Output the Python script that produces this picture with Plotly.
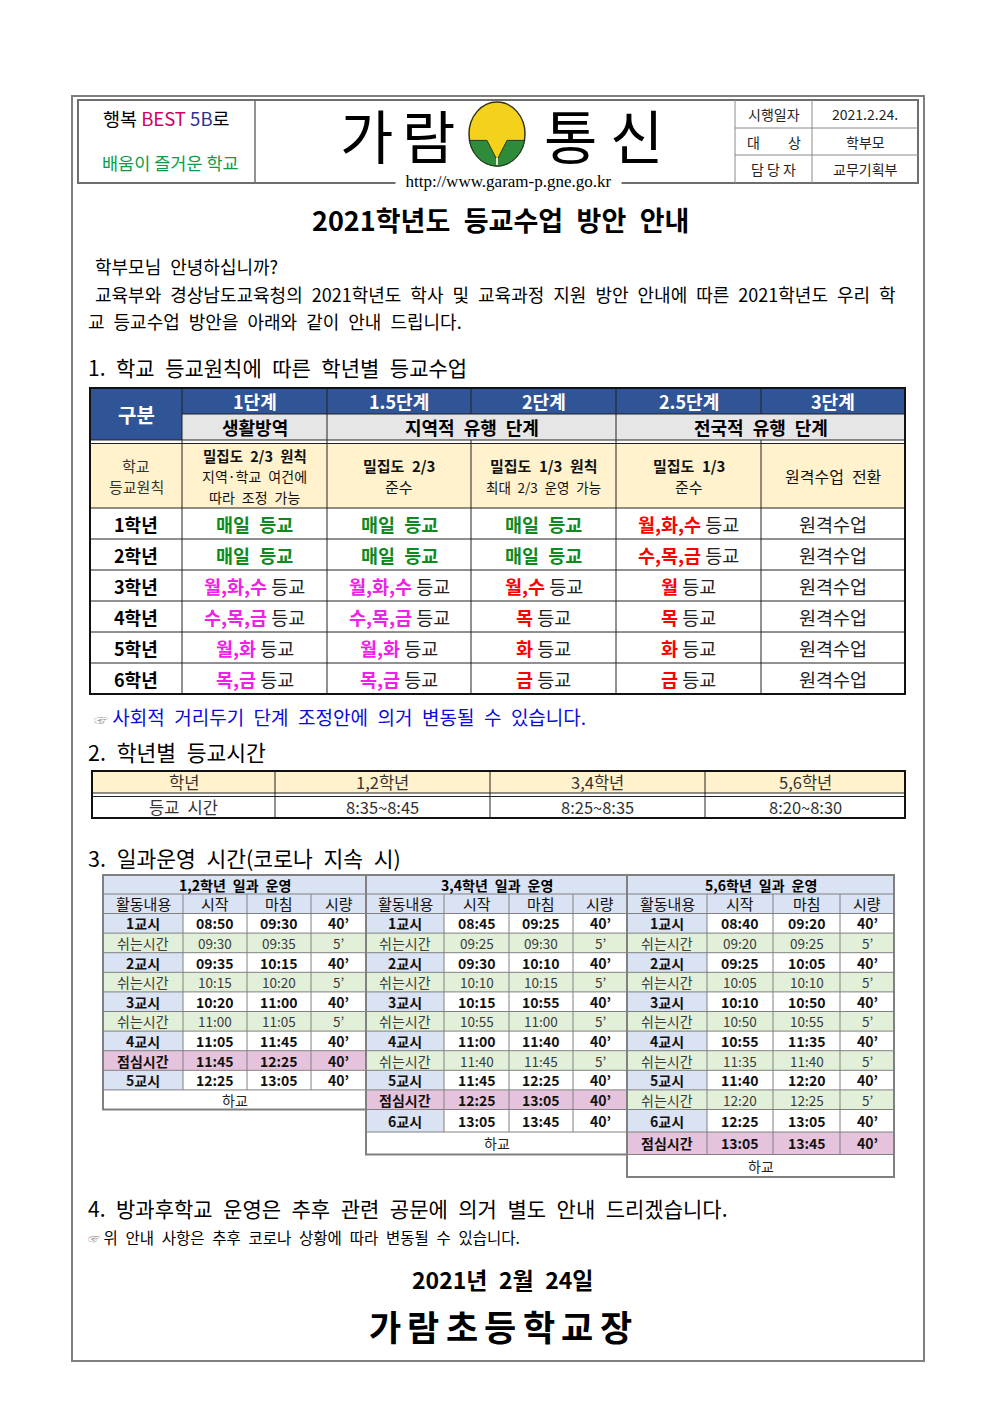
import numpy as np
import plotly.graph_objects as go

FONT = "Noto Sans CJK KR, Noto Sans, sans-serif"
SERIF = "Liberation Serif, DejaVu Serif, serif"

# ------------------------------------------------------------------ data
motto_parts = ["행복", "BEST", "5B", "로"]
slogan = "배움이 즐거운 학교"
title_chars = ["가", "람", "통", "신"]
url = "http://www.garam-p.gne.go.kr"
info_labels = ["시행일자", "대　　상", "담 당 자"]
info_values = ["2021.2.24.", "학부모", "교무기획부"]
doc_title = "2021학년도 등교수업 방안 안내"
greeting = "학부모님 안녕하십니까?"
intro_lines = ["교육부와 경상남도교육청의 2021학년도 학사 및 교육과정 지원 방안 안내에 따른 2021학년도 우리 학",
               "교 등교수업 방안을 아래와 같이 안내 드립니다."]

sec1 = "1. 학교 등교원칙에 따른 학년별 등교수업"
stages = ["1단계", "1.5단계", "2단계", "2.5단계", "3단계"]
stage_groups = ["생활방역", "지역적 유행 단계", "전국적 유행 단계"]
stage_group_span = [1, 2, 2]
principle_label = ["학교", "등교원칙"]
# each cell: list of (text, bold, size)
principles = [
    [("밀집도 2/3 원칙", True, 14.5), ("지역·학교 여건에", False, 14), ("따라 조정 가능", False, 14)],
    [("밀집도 2/3", True, 15), ("준수", False, 15)],
    [("밀집도 1/3 원칙", True, 15), ("최대 2/3 운영 가능", False, 13.5)],
    [("밀집도 1/3", True, 15), ("준수", False, 15)],
    [("원격수업 전환", False, 16)],
]
grades = ["1학년", "2학년", "3학년", "4학년", "5학년", "6학년"]
attendance = [
    ["매일 등교", "매일 등교", "매일 등교", "월,화,수 등교", "원격수업"],
    ["매일 등교", "매일 등교", "매일 등교", "수,목,금 등교", "원격수업"],
    ["월,화,수 등교", "월,화,수 등교", "월,수 등교", "월 등교", "원격수업"],
    ["수,목,금 등교", "수,목,금 등교", "목 등교", "목 등교", "원격수업"],
    ["월,화 등교", "월,화 등교", "화 등교", "화 등교", "원격수업"],
    ["목,금 등교", "목,금 등교", "금 등교", "금 등교", "원격수업"],
]
note1 = "사회적 거리두기 단계 조정안에 의거 변동될 수 있습니다."

sec2 = "2. 학년별 등교시간"
arrival_header = ["학년", "1,2학년", "3,4학년", "5,6학년"]
arrival_times = ["등교 시간", "8:35~8:45", "8:25~8:35", "8:20~8:30"]

sec3 = "3. 일과운영 시간(코로나 지속 시)"
sched_cols = ["활동내용", "시작", "마침", "시량"]
sched_titles = ["1,2학년 일과 운영", "3,4학년 일과 운영", "5,6학년 일과 운영"]
acts_12 = ["1교시", "쉬는시간", "2교시", "쉬는시간", "3교시", "쉬는시간", "4교시", "점심시간", "5교시", "하교"]
start_12 = ["08:50", "09:30", "09:35", "10:15", "10:20", "11:00", "11:05", "11:45", "12:25", ""]
end_12 = ["09:30", "09:35", "10:15", "10:20", "11:00", "11:05", "11:45", "12:25", "13:05", ""]
mins_12 = [40, 5, 40, 5, 40, 5, 40, 40, 40, None]
acts_34 = ["1교시", "쉬는시간", "2교시", "쉬는시간", "3교시", "쉬는시간", "4교시", "쉬는시간", "5교시", "점심시간", "6교시", "하교"]
start_34 = ["08:45", "09:25", "09:30", "10:10", "10:15", "10:55", "11:00", "11:40", "11:45", "12:25", "13:05", ""]
end_34 = ["09:25", "09:30", "10:10", "10:15", "10:55", "11:00", "11:40", "11:45", "12:25", "13:05", "13:45", ""]
mins_34 = [40, 5, 40, 5, 40, 5, 40, 5, 40, 40, 40, None]
acts_56 = ["1교시", "쉬는시간", "2교시", "쉬는시간", "3교시", "쉬는시간", "4교시", "쉬는시간", "5교시", "쉬는시간", "6교시", "점심시간", "하교"]
start_56 = ["08:40", "09:20", "09:25", "10:05", "10:10", "10:50", "10:55", "11:35", "11:40", "12:20", "12:25", "13:05", ""]
end_56 = ["09:20", "09:25", "10:05", "10:10", "10:50", "10:55", "11:35", "11:40", "12:20", "12:25", "13:05", "13:45", ""]
mins_56 = [40, 5, 40, 5, 40, 5, 40, 5, 40, 5, 40, 40, None]

sec4 = "4. 방과후학교 운영은 추후 관련 공문에 의거 별도 안내 드리겠습니다."
note2 = "위 안내 사항은 추후 코로나 상황에 따라 변동될 수 있습니다."
date_text = "2021년 2월 24일"
principal = ["가", "람", "초", "등", "학", "교", "장"]

# ------------------------------------------------------------------ styles
DBLUE = "#2F5597"
GREY = "#E7E6E6"
YELLOW = "#FFF2CC"
LBLUE = "#DAE3F3"
LGREEN = "#E2F0D9"
PINK = "#E6C3DC"
GREEN = "#0F8A1E"
MAGENTA = "#F020E8"
RED = "#FF0000"
TGRAY = "#808080"
EN = "\u2002"


def sp(s):
    """widen word spacing (document fonts use wide spaces)"""
    return s.replace(" ", EN)


shapes, annots = [], []


def box(x0, y0, x1, y1, fill=None, color=None, width=1, layer="below"):
    shapes.append(dict(type="rect", xref="x", yref="y", x0=x0, y0=y0, x1=x1, y1=y1,
                       fillcolor=fill if fill else "rgba(0,0,0,0)",
                       line=dict(color=color if color else "rgba(0,0,0,0)", width=width if color else 0),
                       layer=layer))


def seg(x0, y0, x1, y1, color="black", width=1):
    shapes.append(dict(type="line", xref="x", yref="y", x0=x0, y0=y0, x1=x1, y1=y1,
                       line=dict(color=color, width=width), layer="above"))


def txt(x, y, s, size, color="#000000", anchor="center", family=FONT, bg=None, pad=1):
    a = dict(x=x, y=y, xref="x", yref="y", text=s, showarrow=False, xanchor=anchor,
             yanchor="middle", align=anchor, borderpad=pad,
             font=dict(size=size, color=color, family=family))
    if bg:
        a["bgcolor"] = bg
    annots.append(a)


def lines_block(xc, yc, items, spacing, color):
    n = len(items)
    for k, (s, bold, size) in enumerate(items):
        y = yc + (k - (n - 1) / 2) * spacing
        t = sp(s)
        txt(xc, y, f"<b>{t}</b>" if bold else t, size, color=color, pad=0)


# ------------------------------------------------------------------ page + header
box(72, 96, 924, 1361, color="#7F7F7F", width=2, layer="above")
box(78, 100, 918, 183, color="#6E6E6E", width=2, layer="above")
seg(255, 100, 255, 183, "#6E6E6E", 1.5)
seg(735, 100, 735, 183, "#8A8A8A", 1)
seg(812, 100, 812, 183, "#8A8A8A", 1)
seg(735, 128, 918, 128, "#8A8A8A", 1)
seg(735, 155, 918, 155, "#8A8A8A", 1)

txt(166, 118, f"{motto_parts[0]} <span style='color:#CC0066'>{motto_parts[1]}</span> "
              f"<span style='color:#2E3192'>{motto_parts[2]}</span>{motto_parts[3]}", 18.5)
txt(170, 162, slogan, 17.5, color="#0E9A48")

for ch, xc in zip(title_chars, [366, 428, 570, 636]):
    txt(xc, 134, ch, 58, family="Noto Sans CJK KR")

# logo
cx, cy, rx, ry = 497, 134, 28, 32
shapes.append(dict(type="circle", xref="x", yref="y", x0=cx - rx, y0=cy - ry, x1=cx + rx, y1=cy + ry,
                   fillcolor="#F4D21C", line=dict(color="#33331A", width=1.5)))
ang = np.linspace(np.pi - 0.2, 0.2, 40)
px = cx + rx * np.cos(ang)
py = cy + ry * np.sin(ang)
ytop = cy + ry * np.sin(0.2)
path = "M " + " L ".join(f"{a:.1f},{b:.1f}" for a, b in zip(px, py))
path += f" L {cx + 10},{ytop:.1f} L {cx},{cy + 26} L {cx - 10},{ytop:.1f} Z"
shapes.append(dict(type="path", xref="x", yref="y", path=path, fillcolor="#2E8B3A",
                   line=dict(color="#1F3A1F", width=1)))
seg(cx, cy + 24, cx, cy + 31, "#E8E8C8", 2)

txt(508, 181, "  " + url + "  ", 17, family=SERIF, bg="white")

for lab, val, yc in zip(info_labels, info_values, [114, 142, 169]):
    txt(773.5, yc, lab, 14, color="#222")
    txt(865, yc, val, 14, color="#222")

# ------------------------------------------------------------------ intro
txt(500, 219, f"<b>{sp(doc_title)}</b>", 27)
txt(93, 266, sp(greeting), 18, anchor="left")
txt(93, 294, sp(intro_lines[0]), 18, anchor="left")
txt(86, 321, sp(intro_lines[1]), 18, anchor="left")

# ------------------------------------------------------------------ table 1
txt(86, 367, sp(sec1), 21, anchor="left")
c1 = [90, 182, 327, 471, 616, 761, 905]
T1_TOP, R1, R2, R2B, R3 = 388, 414, 440, 444, 508
RH1 = 31
T1_BOT = R3 + RH1 * len(grades)

box(c1[0], T1_TOP, c1[1], R2, fill=DBLUE)
box(c1[1], T1_TOP, c1[-1], R1, fill=DBLUE)
box(c1[1], R1, c1[-1], R2, fill=GREY)
box(c1[0], R2B, c1[-1], R3, fill=YELLOW)

seg(c1[1], R1, c1[-1], R1, "#222")
seg(c1[0], R2, c1[-1], R2, "#222")
seg(c1[0], R2B - 0.5, c1[-1], R2B - 0.5, "#222")
for i in range(len(grades) + 1):
    seg(c1[0], R3 + i * RH1, c1[-1], R3 + i * RH1, "#222")
seg(c1[1], T1_TOP, c1[1], T1_BOT, "#222")
for c in c1[2:-1]:
    seg(c, T1_TOP, c, R1, "#222")
    seg(c, R2, c, T1_BOT, "#222")
span_edges = np.cumsum([1] + stage_group_span)
for e in span_edges[1:-1]:
    seg(c1[e], R1, c1[e], R2, "#222")
box(c1[0], T1_TOP, c1[-1], T1_BOT, color="#111", width=2, layer="above")

txt((c1[0] + c1[1]) / 2, (T1_TOP + R2) / 2, "<b>구분</b>", 20, color="white")
for j, s in enumerate(stages):
    txt((c1[j + 1] + c1[j + 2]) / 2, (T1_TOP + R1) / 2, f"<b>{s}</b>", 18, color="white")
for g, a0, a1 in zip(stage_groups, span_edges[:-1], span_edges[1:]):
    txt((c1[a0] + c1[a1]) / 2, (R1 + R2) / 2, f"<b>{sp(g)}</b>", 18)

ymid = (R2B + R3) / 2
lines_block((c1[0] + c1[1]) / 2, ymid, [(s, False, 15) for s in principle_label], 21.5, "#333")
for j, cell in enumerate(principles):
    spacing = 20.5 if len(cell) == 3 else 21.5
    lines_block((c1[j + 1] + c1[j + 2]) / 2, ymid, cell, spacing, "#111")


def fmt_att(s, col):
    if s == "매일 등교":
        return f"<b><span style='color:{GREEN}'>{sp(s)}</span></b>"
    if s.endswith(" 등교"):
        c = MAGENTA if col < 2 else RED
        return f"<b><span style='color:{c}'>{s[:-3]}</span></b> 등교"
    return s


for i, g in enumerate(grades):
    yc = R3 + RH1 * (i + 0.5)
    txt((c1[0] + c1[1]) / 2, yc, f"<b>{g}</b>", 18)
    for j, s in enumerate(attendance[i]):
        txt((c1[j + 1] + c1[j + 2]) / 2, yc, fmt_att(s, j), 18.5, color="#222")

txt(92, 716, f"<span style='color:#9A9A9A;font-size:14px'>☞</span> {sp(note1)}", 19,
    color="#0A0ADC", anchor="left")

# ------------------------------------------------------------------ table 2
txt(86, 751, sp(sec2), 21.5, anchor="left")
c2 = [92, 275, 490, 705, 905]
T2_TOP, T2_M, T2_M2, T2_BOT = 771, 793, 796.5, 818
box(c2[0], T2_TOP, c2[-1], T2_M, fill=YELLOW)
seg(c2[0], T2_M, c2[-1], T2_M, "#222")
seg(c2[0], T2_M2, c2[-1], T2_M2, "#222")
for c in c2[1:-1]:
    seg(c, T2_TOP, c, T2_BOT, "#222")
box(c2[0], T2_TOP, c2[-1], T2_BOT, color="#111", width=2, layer="above")
for j in range(4):
    xc = (c2[j] + c2[j + 1]) / 2
    txt(xc, (T2_TOP + T2_M) / 2, sp(arrival_header[j]), 16.5, color="#333", pad=0)
    txt(xc, (T2_M2 + T2_BOT) / 2, sp(arrival_times[j]), 16.5, color="#333", pad=0)

# ------------------------------------------------------------------ table 3
txt(86, 857, sp(sec3), 21.5, anchor="left")
T3_TOP, T3_H1, T3_H2 = 875, 894, 913.5


def sched_table(xe, title, acts, starts, ends, mins):
    x0, x1 = xe[0], xe[-1]
    box(x0, T3_TOP, x1, T3_H2, fill=LBLUE)
    txt((x0 + x1) / 2, (T3_TOP + T3_H1) / 2, f"<b>{sp(title)}</b>", 14, pad=0)
    for j, h in enumerate(sched_cols):
        txt((xe[j] + xe[j + 1]) / 2, (T3_H1 + T3_H2) / 2, h, 15, color="#111", pad=0)
    y = T3_H2
    edges = [y]
    for i, act in enumerate(acts):
        h = 19.6 if i < 10 else 22.5
        y0, y1 = y, y + h
        yc = (y0 + y1) / 2
        if act == "하교":
            txt((x0 + x1) / 2, yc, act, 14, color="#222", pad=0)
        else:
            vals = [act, starts[i], ends[i], f"{mins[i]}’"]
            if act == "쉬는시간":
                box(x0, y0, x1, y1, fill=LGREEN)
                for j, v in enumerate(vals):
                    txt((xe[j] + xe[j + 1]) / 2, yc, v, 14 if j == 0 else 13.5, color="#3A3A3A", pad=0)
            else:
                if act == "점심시간":
                    box(x0, y0, x1, y1, fill=PINK)
                else:
                    box(x0, y0, xe[1], y1, fill=LBLUE)
                for j, v in enumerate(vals):
                    txt((xe[j] + xe[j + 1]) / 2, yc, f"<b>{v}</b>", 14, color="#111", pad=0)
        y = y1
        edges.append(y)
    for e in [T3_H1] + edges[:-1]:
        seg(x0, e, x1, e, TGRAY, 1)
    for c in xe[1:-1]:
        seg(c, T3_H1, c, edges[-2], TGRAY, 1)
    box(x0, T3_TOP, x1, edges[-1], color=TGRAY, width=2, layer="above")


sched_table([103, 183, 247, 311, 366], sched_titles[0], acts_12, start_12, end_12, mins_12)
sched_table([366, 444, 509, 573, 627], sched_titles[1], acts_34, start_34, end_34, mins_34)
sched_table([627, 707, 773, 840, 894], sched_titles[2], acts_56, start_56, end_56, mins_56)

# ------------------------------------------------------------------ footer
txt(86, 1208, sp(sec4), 21, anchor="left")
txt(86, 1237, f"<span style='color:#9A9A9A;font-size:12px'>☞</span> {sp(note2)}", 15.5, anchor="left")
txt(502, 1279, f"<b>{sp(date_text)}</b>", 23)
for k, ch in enumerate(principal):
    txt(500 + (k - 3) * 38.5, 1325, f"<b>{ch}</b>", 35)

fig = go.Figure()
fig.update_layout(
    width=992, height=1403,
    margin=dict(l=0, r=0, t=0, b=0),
    xaxis=dict(range=[0, 992], visible=False, fixedrange=True),
    yaxis=dict(range=[1403, 0], visible=False, fixedrange=True),
    plot_bgcolor="white", paper_bgcolor="white",
    shapes=shapes, annotations=annots, showlegend=False,
)
fig.write_html("out.html", config={"displayModeBar": False},
               post_script="document.body.style.margin='0px';document.body.style.padding='0px';")
